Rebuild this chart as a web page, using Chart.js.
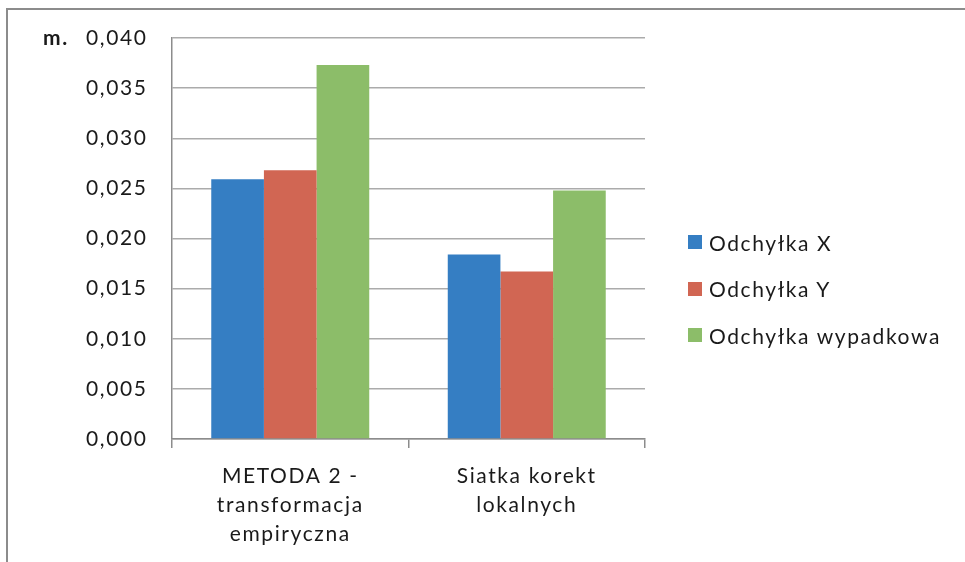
<!DOCTYPE html>
<html>
<head>
<meta charset="utf-8">
<script src="https://cdn.jsdelivr.net/npm/chart.js@4"></script>
<style>
  html, body { margin: 0; padding: 0; background: #fff; }
  #wrap { position: relative; width: 965px; height: 562px; overflow: hidden; font-family: Lato, "Open Sans", sans-serif; }
  #frame { position: absolute; left: 6px; top: 8px; width: 1000px; height: 600px; border-top: 2px solid #8c8c8c; border-left: 2px solid #8c8c8c; }
  #chartBox { position: absolute; left: 0; top: 0; width: 965px; height: 562px; }
  #legend { position: absolute; left: 688px; top: 228px; }
  .legend-item { display: flex; align-items: center; height: 28px; margin-bottom: 18.5px; font-size: 21px; letter-spacing: 1.6px; color: #1a1a1a; }
  .legend-box { width: 14px; height: 14px; margin-right: 7px; }
</style>
</head>
<body>
<div id="wrap">
  <div id="frame"></div>
  <div id="chartBox"><canvas id="chart"></canvas></div>
  <div id="legend"></div>
</div>
<script>
// Chart data
const categories = [["METODA 2 -", "transformacja", "empiryczna"], ["Siatka korekt", "lokalnych"]];
const seriesNames = ["Odchyłka X", "Odchyłka Y", "Odchyłka wypadkowa"];
const odchylkaX = [0.0259, 0.0184];
const odchylkaY = [0.0268, 0.0167];
const odchylkaWyp = [0.0373, 0.0248];
const yTickLabels = ["0,000", "0,005", "0,010", "0,015", "0,020", "0,025", "0,030", "0,035", "0,040"];
const unitLabel = "m.";
const colors = ["#357ec3", "#d16653", "#8cbd69"];

const fontFamily = "Lato, 'Open Sans', sans-serif";

// Wider text, like the stretched Calibri of the original
const spacingPlugin = {
  id: "letterSpacing",
  beforeDraw(chart) {
    chart.ctx.letterSpacing = "1.6px";
  },
};

// Unit label "m." next to the top tick
const unitPlugin = {
  id: "unitLabel",
  afterDraw(chart) {
    const y = chart.scales.y.getPixelForValue(0.04);
    const ctx = chart.ctx;
    ctx.save();
    ctx.font = "bold 21px " + fontFamily;
    ctx.fillStyle = "#1a1a1a";
    ctx.textAlign = "left";
    ctx.textBaseline = "middle";
    ctx.fillText(unitLabel, 43, y);
    ctx.restore();
  },
};

const ctx = document.getElementById("chart").getContext("2d");
const chart = new Chart(ctx, {
  type: "bar",
  data: {
    labels: categories,
    datasets: [
      { label: seriesNames[0], data: odchylkaX, backgroundColor: colors[0] },
      { label: seriesNames[1], data: odchylkaY, backgroundColor: colors[1] },
      { label: seriesNames[2], data: odchylkaWyp, backgroundColor: colors[2] },
    ],
  },
  options: {
    responsive: true,
    maintainAspectRatio: false,
    animation: false,
    layout: {
      padding: { left: 0, right: 320, top: 38, bottom: 0 },
    },
    datasets: {
      bar: {
        categoryPercentage: 0.668,
        barPercentage: 1,
      },
    },
    scales: {
      x: {
        afterFit(scale) {
          scale.height = 123;
        },
        grid: {
          display: true,
          drawOnChartArea: false,
          drawTicks: true,
          tickLength: 9,
          color: "#8c8c8c",
          lineWidth: 1.5,
        },
        border: { color: "#8c8c8c", width: 1.5 },
        ticks: {
          color: "#1a1a1a",
          padding: 14,
          maxRotation: 0,
          font: { family: fontFamily, size: 21, lineHeight: 1.38 },
        },
      },
      y: {
        min: 0,
        max: 0.04,
        afterFit(scale) {
          scale.width = 172;
        },
        grid: {
          drawTicks: false,
          color: "#ababab",
          lineWidth: 1.5,
        },
        border: { color: "#8c8c8c", width: 1.5 },
        ticks: {
          stepSize: 0.005,
          color: "#1a1a1a",
          padding: 24.5,
          font: { family: fontFamily, size: 21 },
          callback: (value, index) => yTickLabels[index],
        },
      },
    },
    plugins: {
      legend: { display: false },
      tooltip: { enabled: false },
    },
  },
  plugins: [spacingPlugin, unitPlugin],
});

// HTML legend built from the datasets
const legendEl = document.getElementById("legend");
chart.data.datasets.forEach((ds) => {
  const item = document.createElement("div");
  item.className = "legend-item";
  const box = document.createElement("span");
  box.className = "legend-box";
  box.style.background = ds.backgroundColor;
  const text = document.createElement("span");
  text.textContent = ds.label;
  item.appendChild(box);
  item.appendChild(text);
  legendEl.appendChild(item);
});
</script>
</body>
</html>
